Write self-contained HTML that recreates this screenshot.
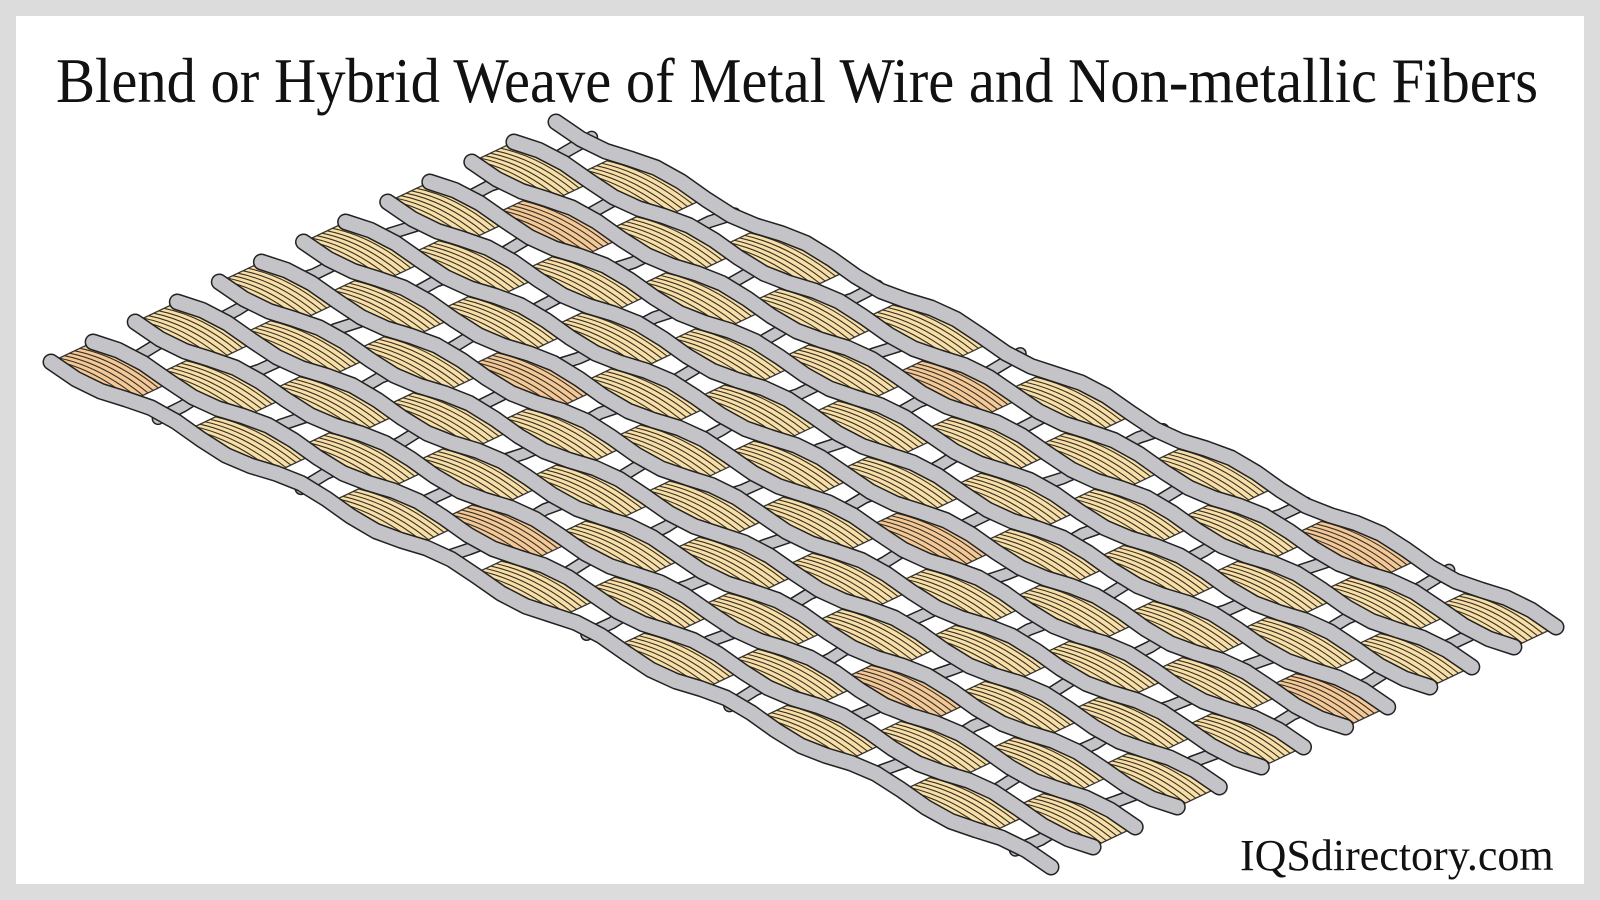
<!DOCTYPE html>
<html><head><meta charset="utf-8"><style>
html,body{margin:0;padding:0;background:#fff}
#f{position:absolute;left:0;top:0;width:1600px;height:900px;background:#dcdcdc}
#in{position:absolute;left:16px;top:16px;width:1568px;height:868px;background:#fff}
#t{position:absolute;left:-12px;top:44px;width:1600px;text-align:center;font-family:"Liberation Serif",serif;font-size:64px;color:#111;white-space:nowrap;transform:scaleX(0.915);transform-origin:800px 0}
#w{position:absolute;left:1240px;top:830px;font-family:"Liberation Serif",serif;font-size:44px;color:#111;white-space:nowrap}
svg{position:absolute;left:0;top:0}
</style></head><body>
<div id="f"><div id="in"></div>
<svg id="s" width="1600" height="900"></svg>
<div id="t">Blend or Hybrid Weave of Metal Wire and Non-metallic Fibers</div>
<div id="w">IQSdirectory.com</div></div>
<script>
var A=[51,362],B=[556,122],C=[1551,607],D=[1051,867];
var s=document.getElementById("s"),out="";
function P(u,v){return [A[0]+(B[0]-A[0])*v+(D[0]-A[0])*u, A[1]+(B[1]-A[1])*v+(D[1]-A[1])*u];}
var NL=13,NC=14;
function wire(pts,w){var d="M"+pts.map(p=>p[0].toFixed(1)+","+p[1].toFixed(1)).join(" L");
 out+='<path d="'+d+'" fill="none" stroke="#222" stroke-width="'+(w+3)+'" stroke-linecap="round" stroke-linejoin="round"/>';
 out+='<path d="'+d+'" fill="none" stroke="#c4c4c8" stroke-width="'+w+'" stroke-linecap="round" stroke-linejoin="round"/>';}
for(var j=0;j<NC;j++){var u=(j+0.5)/NC,pts=[];for(var k=0;k<=20;k++){var v=k/20;var p=P(u,v);p[1]+=3*Math.sin(k*1.5+j);pts.push(p);}wire(pts,10);}
for(var i=0;i<NL-1;i++){for(var j=0;j<NC;j++){if((i+j)%2)continue;
 var v0=(i-0.05)/(NL-1),v1=(i+1.05)/(NL-1),u0=(j-0.1)/NC,u1=(j+1.1)/NC;
 if(u0<0)u0=0;if(u1>1)u1=1;
 var a=P(u0,v1),b=P(u1,v1),c=P(u1,v0),d=P(u0,v0);
 var bow=-12;
 out+='<path d="M'+a+' Q'+((a[0]+b[0])/2)+','+((a[1]+b[1])/2+bow)+' '+b+' L'+c+' Q'+((c[0]+d[0])/2)+','+((c[1]+d[1])/2+bow)+' '+d+'Z" fill="'+((i*7+j*3)%11==0?"#f3c99a":"#f7dfaa")+'" stroke="#333" stroke-width="1.3"/>';
 for(var n=1;n<9;n++){var v=v1+(v0-v1)*n/9,p=P(u0,v),q=P(u1,v);
  out+='<path d="M'+p+' Q'+((p[0]+q[0])/2)+','+((p[1]+q[1])/2+bow)+' '+q+'" fill="none" stroke="#3a3020" stroke-width="1.1"/>';}
}}
for(var i=NL-1;i>=0;i--){var v=i/(NL-1),pts=[];for(var k=0;k<=40;k++){var u=k/40;var p=P(u,v);p[1]+=5*Math.sin(k*Math.PI*NC/40+i*Math.PI);pts.push(p);}wire(pts,14);}
s.innerHTML=out;
</script>
</body></html>
